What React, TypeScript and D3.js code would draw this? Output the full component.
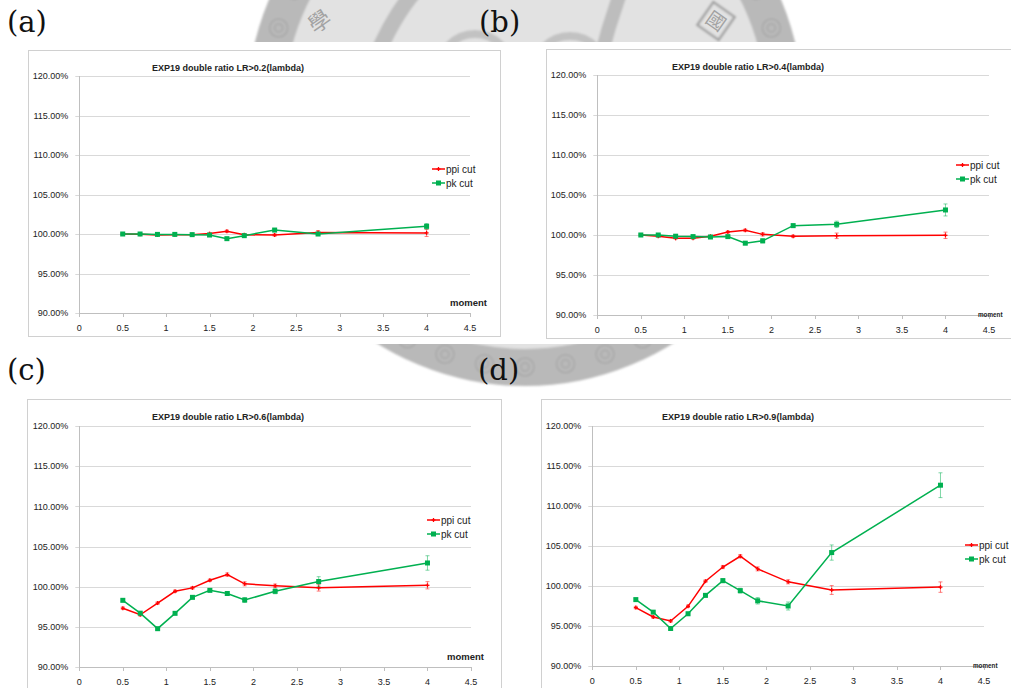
import React from 'react';
import * as d3 from 'd3';

// Moment values shared by every panel
const MOMENTS = [0.5, 0.7, 0.9, 1.1, 1.3, 1.5, 1.7, 1.9, 2.25, 2.75, 4];

// Double ratio (%) for the two cuts, per LR threshold
const PPI_02 = [100, 99.96, 99.88, 99.9, 99.92, 100.05, 100.34, 99.9, 99.87, 100.18, 100.14];
const PK_02 = [100, 100, 99.95, 99.95, 99.92, 99.87, 99.41, 99.79, 100.5, 100.0, 100.97];
const PPI_02_ERR = [0.1, 0.1, 0.1, 0.1, 0.1, 0.1, 0.15, 0.15, 0.15, 0.25, 0.45];
const PK_02_ERR = [0.1, 0.1, 0.1, 0.1, 0.1, 0.1, 0.15, 0.15, 0.2, 0.2, 0.35];

const PPI_04 = [100, 99.83, 99.58, 99.58, 99.85, 100.38, 100.58, 100.08, 99.83, 99.9, 99.96];
const PK_04 = [100, 100, 99.85, 99.8, 99.75, 99.8, 98.98, 99.27, 101.17, 101.33, 103.13];
const PPI_04_ERR = [0.1, 0.1, 0.1, 0.1, 0.1, 0.12, 0.15, 0.2, 0.15, 0.35, 0.4];
const PK_04_ERR = [0.1, 0.1, 0.1, 0.1, 0.1, 0.12, 0.2, 0.25, 0.2, 0.4, 0.75];

const PPI_06 = [97.32, 96.5, 97.96, 99.42, 99.85, 100.79, 101.5, 100.35, 100.12, 99.85, 100.17];
const PK_06 = [98.3, 96.7, 94.77, 96.68, 98.67, 99.54, 99.15, 98.34, 99.42, 100.64, 102.95];
const PPI_06_ERR = [0.15, 0.15, 0.15, 0.15, 0.15, 0.15, 0.2, 0.25, 0.2, 0.4, 0.45];
const PK_06_ERR = [0.15, 0.15, 0.15, 0.15, 0.15, 0.15, 0.2, 0.3, 0.3, 0.6, 0.9];

const PPI_09 = [97.3, 96.13, 95.63, 97.46, 100.6, 102.37, 103.72, 102.14, 100.52, 99.5, 99.86];
const PK_09 = [98.3, 96.73, 94.69, 96.53, 98.83, 100.67, 99.42, 98.15, 97.5, 104.18, 112.6];
const PPI_09_ERR = [0.15, 0.15, 0.15, 0.15, 0.15, 0.2, 0.2, 0.25, 0.25, 0.55, 0.65];
const PK_09_ERR = [0.15, 0.15, 0.2, 0.2, 0.2, 0.25, 0.3, 0.4, 0.5, 0.95, 1.55];

const X_TICKS = [0, 0.5, 1, 1.5, 2, 2.5, 3, 3.5, 4, 4.5];
const Y_TICKS = [90, 95, 100, 105, 110, 115, 120];
const SERIES_NAMES = ['ppi cut', 'pk cut'];
const TITLES = [
  'EXP19 double ratio LR>0.2(lambda)',
  'EXP19 double ratio LR>0.4(lambda)',
  'EXP19 double ratio LR>0.6(lambda)',
  'EXP19 double ratio LR>0.9(lambda)',
];
const PANEL_LABELS = ['(a)', '(b)', '(c)', '(d)'];
const X_TITLE = 'moment';

const RED = '#ff0000';
const GREEN = '#00b050';
const GRID = '#d9d9d9';
const AXIS = '#bfbfbf';
const SANS = '"Liberation Sans", Arial, sans-serif';

type Layout = {
  frame: [number, number, number, number];
  plot: [number, number, number, number]; // left, right, top, bottom
  title: [number, number];
  legend: [number, number, number]; // line start x, first row y, row gap
  moment: [number, number, number]; // x, y, font size
  label: [number, number];
};

const LAYOUTS: Layout[] = [
  { frame: [28, 50, 472, 286], plot: [79.3, 470, 76, 313], title: [228, 71], legend: [432, 169, 14], moment: [450, 306, 9.5], label: [7, 32] },
  { frame: [546, 49, 470, 289], plot: [597.3, 989, 75, 315], title: [748, 69.5], legend: [956, 165, 14], moment: [978, 316.5, 6.3], label: [479, 32] },
  { frame: [27, 399, 474, 300], plot: [79.3, 471, 426, 667], title: [228, 420], legend: [427, 520, 14], moment: [447, 660, 9.5], label: [7, 380] },
  { frame: [541, 399, 480, 300], plot: [592.3, 984, 426, 666], title: [738, 420], legend: [965, 545, 14], moment: [973, 668, 6.3], label: [478, 380] },
];

const PANEL_DATA = [
  { ppi: PPI_02, pk: PK_02, ppiErr: PPI_02_ERR, pkErr: PK_02_ERR },
  { ppi: PPI_04, pk: PK_04, ppiErr: PPI_04_ERR, pkErr: PK_04_ERR },
  { ppi: PPI_06, pk: PK_06, ppiErr: PPI_06_ERR, pkErr: PK_06_ERR },
  { ppi: PPI_09, pk: PK_09, ppiErr: PPI_09_ERR, pkErr: PK_09_ERR },
];

const fmtPct = (v: number) => d3.format('.2f')(v) + '%';

function Series({ xs, ys, errs, x, y, color, square }: any) {
  const line = d3.line<number>().x((_, i) => x(xs[i])).y((d) => y(d));
  return (
    <g>
      {ys.map((v: number, i: number) => {
        const cx = x(xs[i]);
        const y1 = y(v + errs[i]);
        const y2 = y(v - errs[i]);
        return (
          <g key={'e' + i} stroke={color} strokeOpacity={0.5} strokeWidth={1}>
            <line x1={cx} x2={cx} y1={y1} y2={y2} />
            <line x1={cx - 2} x2={cx + 2} y1={y1} y2={y1} />
            <line x1={cx - 2} x2={cx + 2} y1={y2} y2={y2} />
          </g>
        );
      })}
      <path d={line(ys) || ''} fill="none" stroke={color} strokeWidth={1.5} />
      {ys.map((v: number, i: number) => {
        const cx = x(xs[i]);
        const cy = y(v);
        return square ? (
          <rect key={'m' + i} x={cx - 2.5} y={cy - 2.5} width={5} height={5} fill={color} />
        ) : (
          <g key={'m' + i} stroke={color} strokeWidth={1.3}>
            <line x1={cx - 2} x2={cx + 2} y1={cy} y2={cy} />
            <line x1={cx} x2={cx} y1={cy - 2} y2={cy + 2} />
          </g>
        );
      })}
    </g>
  );
}

function Panel({ idx }: { idx: number }) {
  const L = LAYOUTS[idx];
  const D = PANEL_DATA[idx];
  const [left, right, top, bottom] = L.plot;
  const x = d3.scaleLinear().domain([0, 4.5]).range([left, right]);
  const y = d3.scaleLinear().domain([90, 120]).range([bottom, top]);
  const [lx, ly, lg] = L.legend;
  return (
    <g>
      <rect x={L.frame[0] + 0.5} y={L.frame[1] + 0.5} width={L.frame[2]} height={L.frame[3]} fill="#fff" stroke="#d0d0d0" strokeWidth={1} />
      {Y_TICKS.map((t) => (
        <g key={'y' + t}>
          <line x1={left - 4} x2={right} y1={Math.round(y(t)) + 0.5} y2={Math.round(y(t)) + 0.5} stroke={GRID} strokeWidth={1} />
          <text x={left - 11} y={y(t) + 3.2} textAnchor="end" fontSize={9} fill="#222" fontFamily={SANS}>
            {fmtPct(t)}
          </text>
        </g>
      ))}
      <line x1={Math.round(left) + 0.5} x2={Math.round(left) + 0.5} y1={top} y2={bottom} stroke={AXIS} strokeWidth={1} />
      <line x1={left} x2={right} y1={Math.round(bottom) + 0.5} y2={Math.round(bottom) + 0.5} stroke={AXIS} strokeWidth={1} />
      {X_TICKS.map((t) => (
        <g key={'x' + t}>
          <line x1={Math.round(x(t)) + 0.5} x2={Math.round(x(t)) + 0.5} y1={bottom} y2={bottom + 4} stroke={AXIS} strokeWidth={1} />
          <text x={x(t)} y={bottom + 18} textAnchor="middle" fontSize={9} fill="#222" fontFamily={SANS}>
            {String(t)}
          </text>
        </g>
      ))}
      <text x={L.title[0]} y={L.title[1]} textAnchor="middle" fontSize={9} fontWeight="bold" fill="#222" fontFamily={SANS}>
        {TITLES[idx]}
      </text>
      <text x={L.moment[0]} y={L.moment[1]} fontSize={L.moment[2]} fontWeight="bold" fill="#222" fontFamily={SANS}>
        {X_TITLE}
      </text>
      <Series xs={MOMENTS} ys={D.ppi} errs={D.ppiErr} x={x} y={y} color={RED} square={false} />
      <Series xs={MOMENTS} ys={D.pk} errs={D.pkErr} x={x} y={y} color={GREEN} square={true} />
      {SERIES_NAMES.map((name, i) => {
        const color = i === 0 ? RED : GREEN;
        const ry = ly + i * lg;
        return (
          <g key={name}>
            <line x1={lx} x2={lx + 13} y1={ry} y2={ry} stroke={color} strokeWidth={1.5} />
            {i === 0 ? (
              <g stroke={color} strokeWidth={1.3}>
                <line x1={lx + 4.5} x2={lx + 8.5} y1={ry} y2={ry} />
                <line x1={lx + 6.5} x2={lx + 6.5} y1={ry - 2} y2={ry + 2} />
              </g>
            ) : (
              <rect x={lx + 4} y={ry - 2.5} width={5} height={5} fill={color} />
            )}
            <text x={lx + 14} y={ry + 3.5} fontSize={10} fill="#222" fontFamily={SANS}>
              {name}
            </text>
          </g>
        );
      })}
    </g>
  );
}

// Faint university seal printed behind the figure
function Seal() {
  const cx = 525;
  const cy = 108;
  const spirals = d3.range(0, 360, 9);
  return (
    <g>
      <g filter="url(#soft)">
        <circle cx={cx} cy={cy} r={278} fill="#b9b9b9" />
        <circle cx={cx} cy={cy} r={241} fill="#e2e2e2" />
        {spirals.map((a) => {
          const r = (a * Math.PI) / 180;
          const px = cx + 259 * Math.cos(r);
          const py = cy + 259 * Math.sin(r);
          return (
            <g key={a} fill="none" stroke="#a9a9a9" strokeWidth={1.6}>
              <circle cx={px} cy={py} r={9} />
              <circle cx={px} cy={py} r={4} />
            </g>
          );
        })}
        <path d={`M ${cx - 150} 60 Q ${cx - 130} 10 ${cx - 100} -20`} fill="none" stroke="#bdbdbd" strokeWidth={16} />
        <path d={`M ${cx + 75} 60 Q ${cx + 85} 20 ${cx + 100} -20`} fill="none" stroke="#bdbdbd" strokeWidth={14} />
        <circle cx={cx - 50} cy={70} r={36} fill="none" stroke="#c2c2c2" strokeWidth={8} />
        <circle cx={cx + 45} cy={72} r={36} fill="none" stroke="#c2c2c2" strokeWidth={8} />
        <g transform="translate(716,21) rotate(35)">
          <rect x={-13} y={-14} width={26} height={28} fill="none" stroke="#a3a3a3" strokeWidth={2.5} />
        </g>
      </g>
      <text x={0} y={0} transform="translate(324,28) rotate(-35)" textAnchor="middle" fontSize={22} fill="#a3a3a3" fontFamily='"Noto Sans CJK TC", sans-serif'>
        學
      </text>
      <text x={0} y={0} transform="translate(716,21) rotate(35) translate(0,7)" textAnchor="middle" fontSize={19} fill="#a3a3a3" fontFamily='"Noto Sans CJK TC", sans-serif'>
        國
      </text>
    </g>
  );
}

export default function App() {
  return (
    <svg width={1011} height={688} style={{ position: 'absolute', left: 0, top: 0, display: 'block' }}>
      <defs>
        <filter id="soft" x="-10%" y="-10%" width="120%" height="120%">
          <feGaussianBlur stdDeviation={1.2} />
        </filter>
      </defs>
      <rect x={0} y={0} width={1011} height={688} fill="#fff" />
      <Seal />
      <rect x={0} y={42} width={1011} height={302} fill="#fff" />
      <rect x={0} y={390} width={1011} height={298} fill="#fff" />
      {LAYOUTS.map((_, i) => (
        <Panel key={i} idx={i} />
      ))}
      {LAYOUTS.map((L, i) => (
        <text key={'lab' + i} x={L.label[0]} y={L.label[1]} fontSize={29} fill="#111" fontFamily='"DejaVu Serif", serif'>
          {PANEL_LABELS[i]}
        </text>
      ))}
    </svg>
  );
}
